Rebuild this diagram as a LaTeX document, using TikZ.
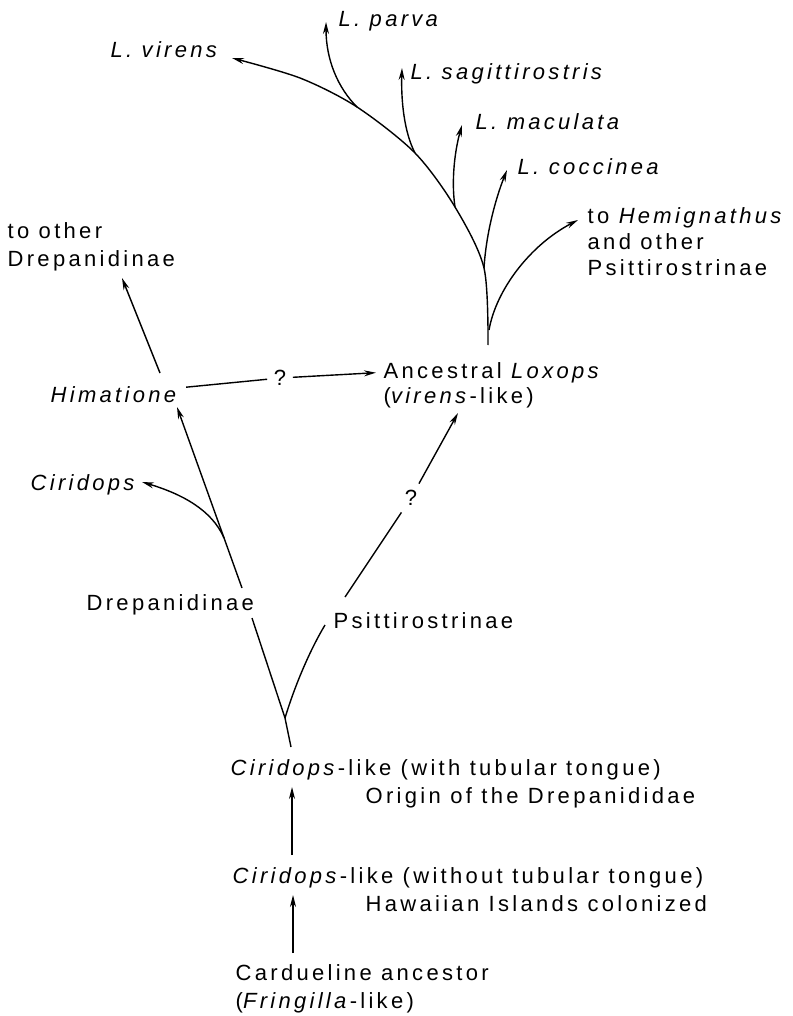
\documentclass[tikz,border=0pt]{standalone}
\usepackage{fontspec}
\setmainfont{Liberation Sans}[LetterSpace=15]
\usetikzlibrary{arrows.meta}

\begin{document}
\begin{tikzpicture}[x=1pt, y=-1pt, line width=1.4pt,
    font=\fontsize{22}{26}\selectfont,
    lbl/.style={anchor=base west, inner sep=0pt},
    qmark/.style={inner sep=6pt},
    tip/.style={-{Stealth[length=12pt, width=6pt]}}]
    \useasboundingbox (0,0) rectangle (792,1016);

    % Ancestors at the bottom
    \node[lbl] (cardu)  at (235,980)  {Cardueline ancestor};
    \node[lbl] (fring)  at (235,1008) {(\textit{Fringilla}-like)};
    \node[lbl] (cirwo)  at (232,883)  {\textit{Ciridops}-like (without tubular tongue)};
    \node[lbl] (hawaii) at (365,911)  {Hawaiian Islands colonized};
    \node[lbl] (cirwi)  at (230,775)  {\textit{Ciridops}-like (with tubular tongue)};
    \node[lbl] (origin) at (365,803)  {Origin of the Drepanididae};

    % Subfamilies
    \node[lbl] (drep)  at (86,610)  {Drepanidinae};
    \node[lbl] (psitt) at (333,628) {Psittirostrinae};
    \node[lbl] (cirid) at (30,490)  {\textit{Ciridops}};
    \node[lbl] (himat) at (50,402)  {\textit{Himatione}};
    \node[lbl] (toA)   at (7,238)   {to other};
    \node[lbl] (toB)   at (7,266)   {Drepanidinae};
    \node[qmark] (q1)  at (280,378) {?};
    \node[qmark] (q2)  at (411,498) {?};

    % Loxops
    \node[lbl] (anc)   at (383,378) {Ancestral \textit{Loxops}};
    \node[lbl] (ancB)  at (383,403) {(\textit{virens}-like)};
    \node[lbl] (virens) at (110,58) {\textit{L. virens}};
    \node[lbl] (parva)  at (338,27) {\textit{L. parva}};
    \node[lbl] (sagit)  at (410,80) {\textit{L. sagittirostris}};
    \node[lbl] (macul)  at (475,130) {\textit{L. maculata}};
    \node[lbl] (cocc)   at (517,175) {\textit{L. coccinea}};
    \node[lbl] (hemA)   at (587,223) {to \textit{Hemignathus}};
    \node[lbl] (hemB)   at (587,249) {and other};
    \node[lbl] (hemC)   at (587,275) {Psittirostrinae};

    % Branch points
    \coordinate (c0) at (293,953);
    \coordinate (c1) at (293,895);
    \coordinate (c2) at (292,855);
    \coordinate (c3) at (292,787);
    \coordinate (root) at (291,747);
    \coordinate (fork) at (285,718);
    \coordinate (dA) at (252,618);
    \coordinate (dB) at (242,588);
    \coordinate (cfork) at (224,538);
    \coordinate (himtip) at (177,407);
    \coordinate (ciridtip) at (142,482);
    \coordinate (himup) at (160,373);
    \coordinate (totip) at (122,278);
    \coordinate (pA) at (325,625);
    \coordinate (pB) at (345,597);
    \coordinate (loxtip) at (458,413);
    \coordinate (base) at (488,345);
    \coordinate (hmfork) at (489,330);
    \coordinate (ccfork) at (484,268);
    \coordinate (mcfork) at (455,207);
    \coordinate (sgfork) at (415,153);
    \coordinate (pvfork) at (357,107);
    \coordinate (vrtip) at (232,58);

    % Stem
    \draw[tip] (c0) -- (c1);
    \draw[tip] (c2) -- (c3);
    \draw (root) -- (fork) -- (dA);
    \draw[tip] (dB) -- (himtip);
    \draw[tip] (cfork) .. controls (212,510) and (182,494) .. (ciridtip);
    \draw[tip] (himup) -- (totip);
    \draw (fork) .. controls (295,685) and (310,650) .. (pA);
    \draw (pB) -- (q2);
    \draw[tip] (q2) -- (loxtip);
    \draw[shorten <=6pt] (himat) -- (q1);
    \draw[tip, shorten >=7pt] (q1) -- (anc.west);

    % Loxops radiation
    \draw[tip] plot[smooth] coordinates {(base) (ccfork) (mcfork) (sgfork) (pvfork) (300,78) (vrtip)};
    \draw[tip] (pvfork) .. controls (338,88) and (326,60) .. (326,22);
    \draw[tip] (sgfork) .. controls (404,132) and (401,100) .. (402,68);
    \draw[tip] (mcfork) .. controls (451,180) and (455,150) .. (462,125);
    \draw[tip] (ccfork) .. controls (486,235) and (495,200) .. (507,170);
    \draw[tip] (hmfork) .. controls (496,290) and (530,245) .. (578,220);
\end{tikzpicture}
\end{document}
